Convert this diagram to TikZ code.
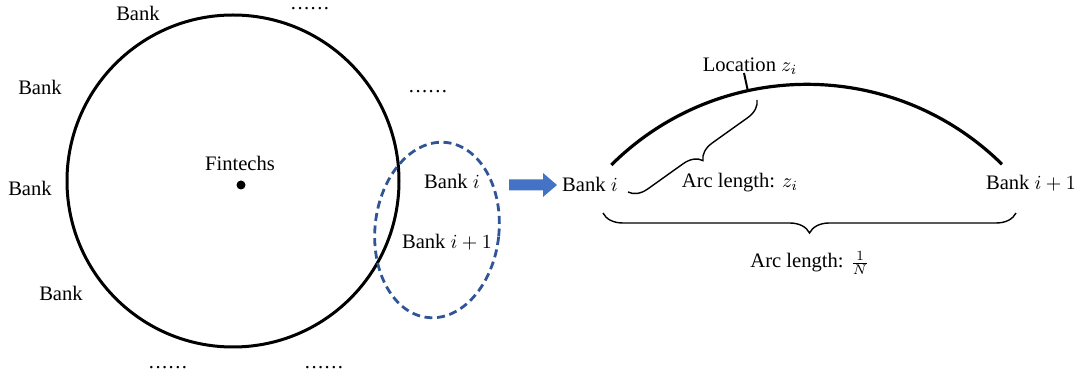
\documentclass[tikz,border=0pt]{standalone}
\usepackage{fontspec}
\setmainfont{Liberation Serif}
\usetikzlibrary{
  decorations.pathreplacing,
  positioning,
}
\definecolor{ellipseblue}{RGB}{47, 85, 151}
\definecolor{arrowblue}{RGB}{68, 114, 196}
\tikzstyle{lbl} = [
  font=\fontsize{10.3}{12}\selectfont,
  inner sep=1pt,
]
\tikzstyle{brace} = [
  decorate,
  decoration={brace, amplitude=9pt},
  line width=0.7pt,
]
\newcommand{\moredots}{.\kern.07em.\kern.07em.\kern.07em.\kern.07em.\kern.07em.}

\begin{document}
\begin{tikzpicture}[x=0.5pt, y=0.5pt]
  \useasboundingbox (0,0) rectangle (1084,-379);

  % circle of banks, fintechs in the middle
  \draw[line width=1.5pt] (233,-181) circle [radius=166];
  \fill (241,-185) circle [radius=4.5];
  \node[lbl] (fintechs) at (240,-163) {Fintechs};

  \node[lbl] (bankA) at (138,-13)  {Bank};
  \node[lbl] (bankB) at (40,-87)   {Bank};
  \node[lbl] (bankC) at (30,-188)  {Bank};
  \node[lbl] (bankD) at (61,-293)  {Bank};
  \node[lbl] (dotsA) at (310,-9)   {\moredots};
  \node[lbl] (dotsB) at (428,-92)  {\moredots};
  \node[lbl] (dotsC) at (168,-368) {\moredots};
  \node[lbl] (dotsD) at (324,-368) {\moredots};

  % the two neighbours we zoom in on
  \draw[ellipseblue, line width=1.4pt, dash pattern=on 4pt off 2.3pt,
        rotate around={-6:(437,-230)}] (437,-230) ellipse [x radius=62, y radius=88];
  \node[lbl] (banki)  at (452,-181) {Bank $i$};
  \node[lbl] (bankii) at (447,-242) {Bank $i+1$};

  % zoom arrow
  \fill[arrowblue] (509,-179.5) -- (543,-179.5) -- (543,-173) -- (557,-185)
    -- (543,-197) -- (543,-190.5) -- (509,-190.5) -- cycle;

  % arc between bank i and bank i+1
  \coordinate (arcc) at (807,-362);
  \draw[line width=1.6pt] (arcc) ++(134.8:277.7) arc [start angle=134.8, end angle=45.4, radius=277.7];
  \path (arcc) ++(102.3:277.7) coordinate (loc);
  \coordinate (loctop) at (744,-73);
  \draw[line width=1pt] (loc) -- (loctop);
  \node[lbl, above=-2pt of loctop, xshift=3pt] (loclbl) {Location $z_i$};

  \node[lbl] (rbanki)  at (590,-184)  {Bank $i$};
  \node[lbl] (rbankii) at (1031,-183) {Bank $i+1$};

  % arc length braces
  \coordinate (zbraceA) at (757,-100);
  \coordinate (zbraceB) at (628,-192);
  \draw[brace] (zbraceA) -- (zbraceB);
  \node[lbl] (arcz) at (740,-183) {Arc length: $z_i$};

  \coordinate (nbraceA) at (603,-213);
  \coordinate (nbraceB) at (1016,-213);
  \draw[brace, decoration={mirror, amplitude=10pt}] (nbraceA) -- (nbraceB);
  \node[lbl] (arcn) at (810,-263) {Arc length: $\frac{1}{N}$};
\end{tikzpicture}
\end{document}
